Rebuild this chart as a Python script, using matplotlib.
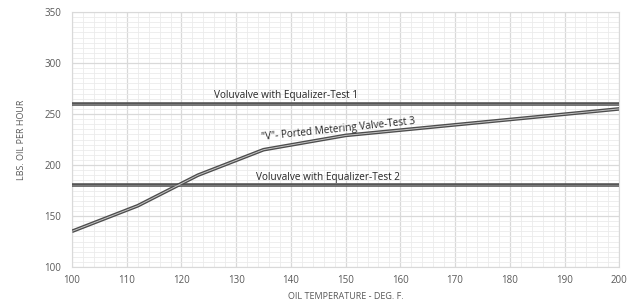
import matplotlib.pyplot as plt
from matplotlib.ticker import MultipleLocator
import numpy as np

temps = [100, 112, 123, 135, 150, 200]
v_ported = [135, 160, 190, 215, 229, 255]
test1_level = 260
test2_level = 180

plt.rcParams['font.family'] = ['Open Sans', 'DejaVu Sans']

fig = plt.figure(figsize=(6.29, 3.0), dpi=100)
ax = fig.add_axes([0.1145, 0.11, 0.87, 0.85])

ax.set_xlim(100, 200)
ax.set_ylim(100, 350)
ax.xaxis.set_major_locator(MultipleLocator(10))
ax.xaxis.set_minor_locator(MultipleLocator(2))
ax.yaxis.set_major_locator(MultipleLocator(50))
ax.yaxis.set_minor_locator(MultipleLocator(5))
ax.grid(which='major', color='#d9d9d9', lw=0.9)
ax.grid(which='minor', color='#ebebeb', lw=0.6)
ax.set_axisbelow(True)
for s in ax.spines.values():
    s.set_color('#d9d9d9')
    s.set_linewidth(0.8)
ax.tick_params(which='both', length=0, colors='#595959', labelsize=7)
ax.tick_params(axis='x', pad=6)
ax.tick_params(axis='y', pad=8)

# double-stroke lines
for lvl in (test1_level, test2_level):
    ax.axhline(lvl, color='#555555', lw=2.6, zorder=3)
    ax.axhline(lvl, color='#8a8a8a', lw=0.5, zorder=4)
ax.plot(temps, v_ported, color='#4d4d4d', lw=2.6, zorder=3, solid_capstyle='butt')
ax.plot(temps, v_ported, color='#c4c4c4', lw=0.7, zorder=4, solid_capstyle='butt')

ax.text(139.1, 262.5, 'Voluvalve with Equalizer-Test 1', fontsize=7.2, color='#262626',
        ha='center', va='bottom')
ax.text(146.7, 182.5, 'Voluvalve with Equalizer-Test 2', fontsize=7.2, color='#262626',
        ha='center', va='bottom')
ax.text(148.6, 235, '"V"- Ported Metering Valve-Test 3', fontsize=7.2, color='#262626',
        ha='center', va='center', rotation=6)

ax.set_xlabel('OIL TEMPERATURE - DEG. F.', fontsize=6.5, color='#595959', labelpad=4)
ax.set_ylabel('LBS. OIL PER HOUR', fontsize=6.5, color='#595959', labelpad=13)

fig.savefig('out.png', dpi=100)
